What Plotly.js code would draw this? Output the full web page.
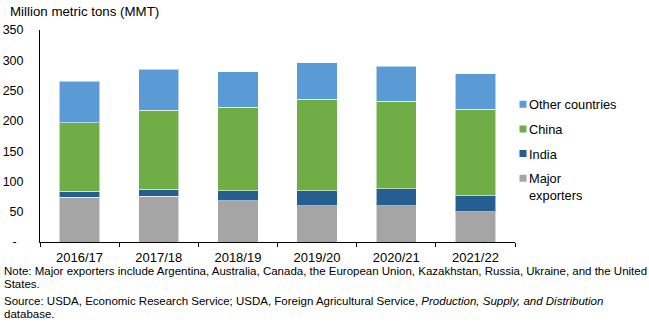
<!DOCTYPE html>
<html>
<head>
<meta charset="utf-8">
<script src="https://cdn.plot.ly/plotly-3.0.1.min.js"></script>
<style>html,body{margin:0;padding:0;background:#fff;}#chart{width:649px;height:326px;}</style>
</head>
<body>
<div id="chart"></div>
<script>
const years = ["2016/17", "2017/18", "2018/19", "2019/20", "2020/21", "2021/22"];
const majorExporters = [74.3, 75.4, 67.7, 60.0, 60.0, 50.0];
const india = [9.3, 12.1, 17.0, 24.7, 28.0, 26.4];
const china = [113.3, 130.3, 138.1, 150.8, 144.2, 142.6];
const otherCountries = [68.8, 67.2, 58.2, 60.4, 58.2, 58.7];
const seriesNames = ["Major<br>exporters", "India", "China", "Other countries"];
const seriesColors = ["#a5a5a5", "#255e91", "#70ad47", "#5b9bd5"];
const yTickVals = [0, 50, 100, 150, 200, 250, 300, 350];
const yTickText = ["-\u00a0\u00a0", "50", "100", "150", "200", "250", "300", "350"];
const titleText = "Million metric tons (MMT)";
const noteLines = [
  "Note: Major exporters include Argentina, Australia, Canada, the European Union, Kazakhstan, Russia, Ukraine, and the United",
  "States.",
  "Source: USDA, Economic Research Service; USDA, Foreign Agricultural Service, <i>Production, Supply, and Distribution</i>",
  "database."
];

const values = [majorExporters, india, china, otherCountries];
const font = "Liberation Sans, Arial, sans-serif";

const traces = values.map((v, i) => ({
  type: "bar",
  x: years,
  y: v,
  name: seriesNames[i],
  legendgroup: "g" + i,
  legendrank: 10 - i,
  marker: {color: seriesColors[i], line: {color: "rgba(255,255,255,0.55)", width: 1}},
  hoverinfo: "skip"
}));

const W = 649, H = 326, L = 40, R = 134, T = 30, B = 84;
const pw = W - L - R, ph = H - T - B;
const px = x => (x - L) / pw;
const py = y => (H - B - y) / ph;

const noteY = [271, 284, 301, 314];
const annotations = noteLines.map((t, i) => ({
  text: t, xref: "paper", yref: "paper", x: px(2), y: py(noteY[i]),
  xanchor: "left", yanchor: "middle", showarrow: false, align: "left",
  font: {family: font, size: 11.5, color: "#000"}
}));
annotations.push({
  text: titleText, xref: "paper", yref: "paper", x: px(8), y: py(12),
  xanchor: "left", yanchor: "middle", showarrow: false,
  font: {family: font, size: 13.3, color: "#000"}
});

const layout = {
  width: W, height: H,
  margin: {l: L, r: R, t: T, b: B, pad: 0},
  paper_bgcolor: "#fff", plot_bgcolor: "#fff",
  barmode: "stack",
  bargap: 0.49,
  font: {family: font, size: 12, color: "#000"},
  showlegend: true,
  legend: {
    traceorder: "grouped",
    tracegroupgap: 5,
    x: px(489), y: py(89.5), xanchor: "left", yanchor: "top",
    font: {family: font, size: 12.8, color: "#000"},
    valign: "top",
    bgcolor: "rgba(0,0,0,0)"
  },
  xaxis: {
    type: "category",
    showline: true, linecolor: "#000", linewidth: 1,
    ticks: "outside", tickson: "boundaries", ticklen: 4, tickcolor: "#000",
    showgrid: false, zeroline: false,
    ticklabelstandoff: 3,
    tickfont: {family: font, size: 13, color: "#000"}
  },
  yaxis: {
    range: [0, 350],
    tickvals: yTickVals, ticktext: yTickText,
    showline: true, linecolor: "#000", linewidth: 1,
    ticks: "", showgrid: false, zeroline: false,
    ticklabelstandoff: 13,
    tickfont: {family: font, size: 12.5, color: "#000"}
  },
  annotations: annotations
};

Plotly.newPlot("chart", traces, layout, {staticPlot: true, displayModeBar: false}).then(() => {
  document.querySelectorAll(".legend .traces").forEach(tr => {
    const pts = tr.querySelector(".legendpoints");
    if (pts) pts.setAttribute("transform", "translate(14,0)");
    tr.querySelectorAll(".legendpoints path").forEach(p => {
      p.setAttribute("d", "M3.5,3.5H-3.5V-3.5H3.5Z");
      p.style.strokeWidth = "0";
    });
  });
});
</script>
</body>
</html>
